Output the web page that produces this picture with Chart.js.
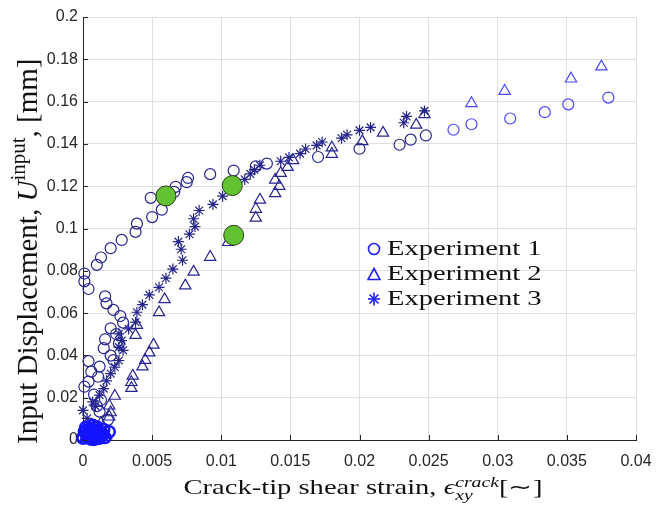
<!DOCTYPE html>
<html lang="en">
<head>
  <meta charset="UTF-8">
  <title>Input displacement vs crack-tip shear strain</title>
  <script src="https://cdn.jsdelivr.net/npm/chart.js"></script>
  <style>
    body, html {
      margin: 0;
      background: #fff;
    }

    .plot {
      position: relative;
      width: 664px;
      height: 509px;
    }

    .serif {
      position: absolute;
      font-family: "Liberation Serif", "Times New Roman", serif;
      color: #111;
      white-space: nowrap;
    }

    .x-title {
      left: 363px;
      top: 476px;
      font-size: 21px;
      line-height: 1;
      transform: translateX(-50%) scaleX(1.36);
    }

    /* vertical title, reads bottom to top */
    .y-title {
      left: 2px;
      top: 40px;
      width: 32px;
      height: 422px;
      font-size: 29px;
      line-height: 32px;
      text-align: center;
      writing-mode: vertical-rl;
      transform: rotate(180deg);
    }
    .y-title sup {
      font-size: 21px;
      vertical-align: 9px;
    }

    .stack {
      display: inline-block;
      vertical-align: -6px;
      font-size: 14.5px;
      font-style: italic;
      line-height: 13px;
    }
    .stack span { display: block; }

    .legend {
      left: 367px;
      top: 236px;
      font-size: 21px;
      line-height: 1;
    }
    .legend .row {
      height: 25px;
      display: flex;
      align-items: center;
    }
    .legend .txt {
      display: inline-block;
      transform-origin: left center;
      transform: scaleX(1.36);
    }
    .legend svg { margin-right: 6px; }
  </style>
</head>
<body>
  <div class="plot">
    <canvas id="strainChart" width="664" height="509"></canvas>

    <div class="serif y-title">Input Displacement, <i>U</i><sup>input</sup>, [mm]</div>
    <div class="serif x-title">Crack-tip shear strain, <i>ϵ</i><span class="stack"><span>crack</span><span>xy</span></span>[∼]</div>

    <div class="serif legend">
      <div class="row">
        <svg width="14" height="14"><circle cx="7" cy="7" r="5.5" fill="none" stroke="#1f1fff" stroke-width="1.6"/></svg>
        <span class="txt">Experiment 1</span>
      </div>
      <div class="row">
        <svg width="14" height="14"><polygon points="7,1.5 13,12.5 1,12.5" fill="none" stroke="#1f1fff" stroke-width="1.6"/></svg>
        <span class="txt">Experiment 2</span>
      </div>
      <div class="row">
        <svg width="14" height="14" stroke="#1f1fff" stroke-width="1.6">
          <line x1="7" y1="0.5" x2="7" y2="13.5"/><line x1="1" y1="7" x2="13" y2="7"/>
          <line x1="2.5" y1="2.5" x2="11.5" y2="11.5"/><line x1="11.5" y1="2.5" x2="2.5" y2="11.5"/>
        </svg>
        <span class="txt">Experiment 3</span>
      </div>
    </div>
  </div>

  <script>
    // axis ticks
    const strainTicks = [0, 0.005, 0.01, 0.015, 0.02, 0.025, 0.03, 0.035, 0.04];
    const dispTicks = [0, 0.02, 0.04, 0.06, 0.08, 0.1, 0.12, 0.14, 0.16, 0.18, 0.2];

    // Experiment 1 (circles)
    const exp1Strain = [
      0.0380, 0.0351, 0.0334, 0.0309, 0.0281, 0.0268, 0.0248, 0.0237, 0.0229, 0.0200,
      0.0170, 0.0133, 0.0125, 0.0109, 0.0092, 0.0076, 0.0075, 0.0067, 0.0066, 0.0049,
      0.0057, 0.0050, 0.0039, 0.0038, 0.0028, 0.0020, 0.0013, 0.0010, 0.0001, 0.0001,
      0.0004, 0.0016, 0.0017, 0.0022, 0.0027, 0.0029, 0.0020, 0.0024, 0.0016, 0.0026,
      0.0015, 0.0020, 0.0022, 0.0004, 0.0012, 0.0006, 0.0011, 0.0004, 0.0001, 0.0008,
      0.0013, 0.0010, 0.0012, 0.0018, 0.0019, 0.0000, 0.0003, 0.0006, 0.0009, 0.0012,
      0.0014, 0.0005, 0.0002, 0.0010, 0.0016, 0.0008, 0.0004, 0.0011, 0.0015, 0.0007,
      0.0001, 0.0013
    ];
    const exp1Disp = [
      0.1619, 0.1587, 0.1550, 0.1520, 0.1493, 0.1467, 0.1440, 0.1420, 0.1396, 0.1377,
      0.1338, 0.1307, 0.1294, 0.1274, 0.1257, 0.1239, 0.1219, 0.1197, 0.1173, 0.1145,
      0.1089, 0.1054, 0.1023, 0.0984, 0.0946, 0.0907, 0.0863, 0.0828, 0.0787, 0.0750,
      0.0714, 0.0679, 0.0646, 0.0615, 0.0586, 0.0555, 0.0528, 0.0501, 0.0476, 0.0457,
      0.0434, 0.0399, 0.0378, 0.0373, 0.0347, 0.0323, 0.0299, 0.0276, 0.0252, 0.0215,
      0.0189, 0.0160, 0.0134, 0.0095, 0.0039, 0.0008, 0.0015, 0.0004, 0.0020, 0.0008,
      0.0030, 0.0045, 0.0060, 0.0062, 0.0012, 0.0002, 0.0010, 0.0035, 0.0050, 0.0070,
      0.0040, 0.0025
    ];

    // Experiment 2 (triangles)
    const exp2Strain = [
      0.0375, 0.0353, 0.0305, 0.0281, 0.0247, 0.0241, 0.0217, 0.0202, 0.0180, 0.0180,
      0.0152, 0.0148, 0.0143, 0.0139, 0.0142, 0.0139, 0.0128, 0.0125, 0.0125, 0.0105,
      0.0092, 0.0080, 0.0074, 0.0059, 0.0055, 0.0039, 0.0038, 0.0051, 0.0048, 0.0045,
      0.0043, 0.0036, 0.0035, 0.0035, 0.0023, 0.0019, 0.0020, 0.0019, 0.0013, 0.0008,
      0.0002, 0.0005, 0.0010, 0.0013, 0.0007, 0.0003, 0.0016, 0.0009, 0.0001, 0.0012
    ];
    const exp2Disp = [
      0.1765, 0.1708, 0.1650, 0.1592, 0.1540, 0.1490, 0.1452, 0.1412, 0.1382, 0.1352,
      0.1322, 0.1290, 0.1262, 0.1230, 0.1200, 0.1166, 0.1135, 0.1092, 0.1050, 0.0935,
      0.0865, 0.0795, 0.0730, 0.0665, 0.0603, 0.0543, 0.0496, 0.0450, 0.0413, 0.0378,
      0.0347, 0.0303, 0.0273, 0.0245, 0.0208, 0.0162, 0.0130, 0.0110, 0.0080, 0.0050,
      0.0010, 0.0020, 0.0005, 0.0015, 0.0030, 0.0040, 0.0025, 0.0012, 0.0045, 0.0035
    ];

    // Experiment 3 (asterisks)
    const exp3Strain = [
      0.0247, 0.0234, 0.0232, 0.0208, 0.0200, 0.0191, 0.0187, 0.0173, 0.0169, 0.0161,
      0.0157, 0.0149, 0.0143, 0.0128, 0.0124, 0.0121, 0.0117, 0.0108, 0.0101, 0.0094,
      0.0084, 0.0080, 0.0081, 0.0077, 0.0069, 0.0071, 0.0072, 0.0065, 0.0060, 0.0055,
      0.0048, 0.0043, 0.0039, 0.0038, 0.0033, 0.0026, 0.0028, 0.0026, 0.0029, 0.0026,
      0.0023, 0.0020, 0.0017, 0.0015, 0.0012, 0.0007, 0.0009, 0.0000, 0.0003, 0.0005,
      0.0001, 0.0004, 0.0008, 0.0011, 0.0006, 0.0002, 0.0014, 0.0010, 0.0003, 0.0007
    ];
    const exp3Disp = [
      0.1556, 0.1530, 0.1500, 0.1478, 0.1464, 0.1443, 0.1427, 0.1409, 0.1393, 0.1376,
      0.1354, 0.1336, 0.1318, 0.1299, 0.1278, 0.1258, 0.1232, 0.1192, 0.1153, 0.1114,
      0.1085, 0.1046, 0.1009, 0.0973, 0.0938, 0.0902, 0.0850, 0.0808, 0.0765, 0.0722,
      0.0686, 0.0640, 0.0604, 0.0557, 0.0525, 0.0502, 0.0470, 0.0439, 0.0424, 0.0376,
      0.0345, 0.0314, 0.0280, 0.0243, 0.0212, 0.0180, 0.0160, 0.0140, 0.0102, 0.0070,
      0.0030, 0.0015, 0.0040, 0.0010, 0.0005, 0.0022, 0.0028, 0.0048, 0.0055, 0.0002
    ];

    // highlighted states
    const markStrain = [0.0060, 0.0108, 0.0109];
    const markDisp = [0.1154, 0.1203, 0.0968];

    function toPoints(xs, ys) {
      return xs.map((x, i) => ({ x: x, y: ys[i] }));
    }

    // darker markers in the dense part, brighter further out / in the origin blob
    function markerColor(ctx) {
      const p = ctx.raw;
      if (!p) return '#25258f';
      if (p.x > 0.0255) return '#4646ff';
      if (p.x < 0.0022 && p.y < 0.0075) return '#1414ff';
      return '#25258f';
    }

    function markerWidth(ctx) {
      const p = ctx.raw;
      if (p && p.x < 0.0022 && p.y < 0.0075) return 2.5;
      return 1.2;
    }

    const inwardTicks = {
      id: 'inwardTicks',
      afterDraw(chart) {
        const { ctx, chartArea: a, scales } = chart;
        ctx.save();
        ctx.strokeStyle = '#262626';
        ctx.lineWidth = 1;
        ctx.beginPath();
        strainTicks.forEach(v => {
          const px = Math.round(scales.x.getPixelForValue(v)) + 0.5;
          ctx.moveTo(px, a.bottom);
          ctx.lineTo(px, a.bottom - 5);
        });
        dispTicks.forEach(v => {
          const py = Math.round(scales.y.getPixelForValue(v)) + 0.5;
          ctx.moveTo(a.left, py);
          ctx.lineTo(a.left + 5, py);
        });
        ctx.stroke();
        ctx.restore();
      }
    };

    const ctx = document.getElementById('strainChart').getContext('2d');

    new Chart(ctx, {
      type: 'scatter',
      data: {
        datasets: [
          {
            label: 'Highlighted',
            data: toPoints(markStrain, markDisp),
            pointStyle: 'circle',
            pointRadius: 10,
            pointBackgroundColor: '#62c232',
            pointBorderColor: '#2b3b1c',
            pointBorderWidth: 1,
            clip: false
          },
          {
            label: 'Experiment 1',
            data: toPoints(exp1Strain, exp1Disp),
            pointStyle: 'circle',
            pointRadius: 5.5,
            pointBackgroundColor: 'rgba(0,0,0,0)',
            pointBorderColor: markerColor,
            pointBorderWidth: markerWidth,
            clip: false
          },
          {
            label: 'Experiment 2',
            data: toPoints(exp2Strain, exp2Disp),
            pointStyle: 'triangle',
            pointRadius: 6.5,
            pointBackgroundColor: 'rgba(0,0,0,0)',
            pointBorderColor: markerColor,
            pointBorderWidth: markerWidth,
            clip: false
          },
          {
            label: 'Experiment 3',
            data: toPoints(exp3Strain, exp3Disp),
            pointStyle: 'star',
            pointRadius: 5.5,
            pointBackgroundColor: 'rgba(0,0,0,0)',
            pointBorderColor: markerColor,
            pointBorderWidth: markerWidth,
            clip: false
          }
        ]
      },
      options: {
        responsive: false,
        animation: false,
        events: [],
        layout: {
          padding: { left: 0, top: 17, right: 28, bottom: 0 }
        },
        plugins: {
          legend: { display: false },
          tooltip: { enabled: false }
        },
        scales: {
          x: {
            type: 'linear',
            min: 0,
            max: 0.04,
            afterFit(scale) { scale.height = 69; },
            afterBuildTicks(scale) { scale.ticks = strainTicks.map(v => ({ value: v })); },
            grid: { color: '#dfdfdf', drawTicks: false },
            border: { color: '#262626' },
            ticks: {
              padding: 12,
              color: '#262626',
              font: { family: 'Liberation Sans, Arial, sans-serif', size: 16 },
              callback: v => String(Number(v.toFixed(3)))
            },
            title: { display: false }
          },
          y: {
            type: 'linear',
            min: 0,
            max: 0.2,
            afterFit(scale) { scale.width = 83; },
            afterBuildTicks(scale) { scale.ticks = dispTicks.map(v => ({ value: v })); },
            grid: { color: '#dfdfdf', drawTicks: false },
            border: { color: '#262626' },
            ticks: {
              padding: 5,
              color: '#262626',
              font: { family: 'Liberation Sans, Arial, sans-serif', size: 16 },
              callback: v => String(Number(v.toFixed(2)))
            },
            title: { display: false }
          }
        }
      },
      plugins: [inwardTicks]
    });
  </script>
</body>
</html>
